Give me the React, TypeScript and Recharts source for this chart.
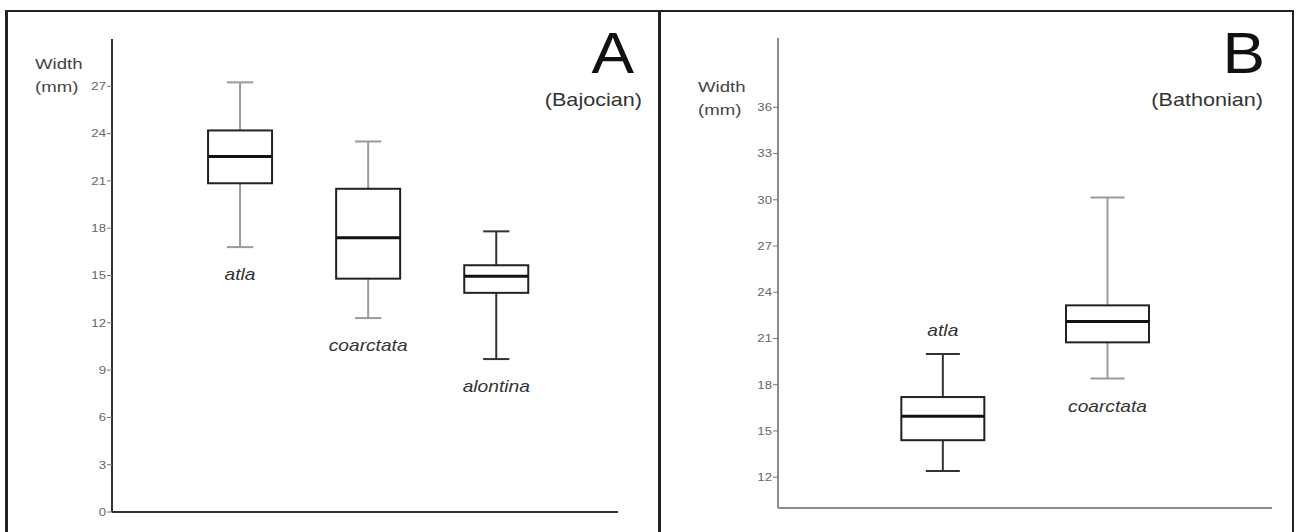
import React from 'react';
import { ComposedChart, Bar, XAxis, YAxis } from 'recharts';

const FONT = '"Liberation Sans", Arial, Helvetica, sans-serif';
// the scanned figure is a bit wider than tall, so text is stretched sideways
const STRETCH = 1.2;

// Panel A - Bajocian
const speciesA = ['atla', 'coarctata', 'alontina'];
const slotA = [1, 2, 3];
const lowA = [16.8, 12.3, 9.7];
const q1A = [20.85, 14.8, 13.9];
const medianA = [22.55, 17.4, 14.95];
const q3A = [24.2, 20.5, 15.65];
const highA = [27.25, 23.5, 17.8];
const sideA = ['below', 'below', 'below'];
const ticksA = [0, 3, 6, 9, 12, 15, 18, 21, 24, 27];

// Panel B - Bathonian
const speciesB = ['atla', 'coarctata'];
const slotB = [1, 2];
const lowB = [12.4, 18.4];
const q1B = [14.4, 20.75];
const medianB = [15.95, 22.1];
const q3B = [17.2, 23.15];
const highB = [20.0, 30.15];
const sideB = ['above', 'below'];
const ticksB = [12, 15, 18, 21, 24, 27, 30, 33, 36];

const whiskerColorsA = ['#9a9a9a', '#9a9a9a', '#333'];
const whiskerColorsB = ['#333', '#9a9a9a'];

function buildRows(
    species: string[], slot: number[], low: number[], q1: number[],
    median: number[], q3: number[], high: number[], side: string[]
) {
    return species.map((name, i) => ({
        name,
        slot: slot[i],
        range: [low[i], high[i]],
        low: low[i],
        q1: q1[i],
        median: median[i],
        q3: q3[i],
        high: high[i],
        side: side[i],
    }));
}

const rowsA = buildRows(speciesA, slotA, lowA, q1A, medianA, q3A, highA, sideA);
const rowsB = buildRows(speciesB, slotB, lowB, q1B, medianB, q3B, highB, sideB);

function BoxWhisker(props: any) {
    const { x, y, width, height, payload, index, whiskerColors } = props;
    if (x == null || payload == null) return null;
    // the bar spans low..high, so its pixels give the y scale
    const top = Math.min(y, y + height);
    const k = Math.abs(height) / (payload.high - payload.low);
    const yOf = (v: number) => top + (payload.high - v) * k;
    const cx = x + width / 2;
    const cap = width * 0.41;
    const wc = whiskerColors[index] ?? '#9a9a9a';
    const yHigh = yOf(payload.high);
    const yQ3 = yOf(payload.q3);
    const yMed = yOf(payload.median);
    const yQ1 = yOf(payload.q1);
    const yLow = yOf(payload.low);
    const labelY = payload.side === 'above' ? yHigh - 18 : yLow + 33;
    return (
        <g>
            <line x1={cx} x2={cx} y1={yHigh} y2={yQ3} stroke={wc} strokeWidth={2} />
            <line x1={cx} x2={cx} y1={yQ1} y2={yLow} stroke={wc} strokeWidth={2} />
            <line x1={cx - cap / 2} x2={cx + cap / 2} y1={yHigh} y2={yHigh} stroke={wc} strokeWidth={2} />
            <line x1={cx - cap / 2} x2={cx + cap / 2} y1={yLow} y2={yLow} stroke={wc} strokeWidth={2} />
            <rect x={x} y={yQ3} width={width} height={yQ1 - yQ3} fill="#fff" stroke="#222" strokeWidth={2} />
            <line x1={x} x2={x + width} y1={yMed} y2={yMed} stroke="#111" strokeWidth={3} />
            <text
                transform={`translate(${cx},${labelY}) scale(${STRETCH},1)`}
                textAnchor="middle"
                fontStyle="italic"
                fontSize={16}
                fill="#333"
                fontFamily={FONT}
            >
                {payload.name}
            </text>
        </g>
    );
}

function StretchTick(props: any) {
    const { x, y, payload } = props;
    return (
        <text
            transform={`translate(${x},${y}) scale(${STRETCH},1)`}
            textAnchor="end"
            dy="0.35em"
            fontSize={11}
            fill="#666"
            fontFamily={FONT}
        >
            {payload.value}
        </text>
    );
}

interface PanelProps {
    rows: any[];
    whiskerColors: string[];
    ticks: number[];
    yDomain: [number, number];
    xDomain: [number, number];
    width: number;
    margin: { top: number; right: number; bottom: number; left: number };
    boxWidth: number;
    axisColor: string;
}

function Panel({ rows, whiskerColors, ticks, yDomain, xDomain, width, margin, boxWidth, axisColor }: PanelProps) {
    return (
        <ComposedChart width={width} height={532} data={rows} margin={margin}>
            <XAxis
                dataKey="slot"
                type="number"
                domain={xDomain}
                height={2}
                tick={false}
                tickLine={false}
                axisLine={{ stroke: axisColor, strokeWidth: 2 }}
            />
            <YAxis
                type="number"
                domain={yDomain}
                ticks={ticks}
                interval={0}
                width={40}
                tickSize={5}
                tickMargin={1}
                tick={<StretchTick />}
                tickLine={{ stroke: '#777' }}
                axisLine={{ stroke: axisColor, strokeWidth: 2 }}
            />
            <Bar
                dataKey="range"
                barSize={boxWidth}
                isAnimationActive={false}
                shape={(p: any) => <BoxWhisker {...p} whiskerColors={whiskerColors} />}
            />
        </ComposedChart>
    );
}

function Caption({ x, y, size, anchor, children, scale = STRETCH, color = '#333' }: any) {
    return (
        <text
            transform={`translate(${x},${y}) scale(${scale},1)`}
            textAnchor={anchor}
            fontSize={size}
            fill={color}
            fontFamily={FONT}
        >
            {children}
        </text>
    );
}

export default function App() {
    return (
        <div style={{ position: 'absolute', left: 0, top: 0, width: 1297, height: 532, background: '#fff', overflow: 'hidden' }}>
            <div style={{
                position: 'absolute', left: 5, top: 10, width: 1289, height: 540, boxSizing: 'border-box',
                borderTop: '2px solid #222', borderLeft: '3px solid #222', borderRight: '2px solid #222'
            }} />
            <div style={{ position: 'absolute', left: 658, top: 10, width: 3, height: 530, background: '#222' }} />

            <div style={{ position: 'absolute', left: 0, top: 0 }}>
                <Panel
                    rows={rowsA}
                    whiskerColors={whiskerColorsA}
                    ticks={ticksA}
                    yDomain={[0, 30]}
                    xDomain={[0, 3.95]}
                    width={660}
                    margin={{ top: 39, right: 42, bottom: 18, left: 72 }}
                    boxWidth={64}
                    axisColor="#333"
                />
            </div>
            <div style={{ position: 'absolute', left: 660, top: 0 }}>
                <Panel
                    rows={rowsB}
                    whiskerColors={whiskerColorsB}
                    ticks={ticksB}
                    yDomain={[10, 40.5]}
                    xDomain={[0, 3]}
                    width={637}
                    margin={{ top: 38, right: 25, bottom: 22, left: 78 }}
                    boxWidth={83}
                    axisColor="#8c8c8c"
                />
            </div>

            <svg width={1297} height={532} style={{ position: 'absolute', left: 0, top: 0, pointerEvents: 'none' }}>
                <Caption x={35} y={69} size={15.5} anchor="start" color="#444">Width</Caption>
                <Caption x={35} y={92} size={15.5} anchor="start" color="#444">(mm)</Caption>
                <Caption x={634} y={73} size={58} anchor="end" scale={1.1} color="#111">A</Caption>
                <Caption x={642} y={106} size={18} anchor="end">(Bajocian)</Caption>

                <Caption x={698} y={92} size={15.5} anchor="start" color="#444">Width</Caption>
                <Caption x={698} y={115} size={15.5} anchor="start" color="#444">(mm)</Caption>
                <Caption x={1265} y={73} size={58} anchor="end" scale={1.1} color="#111">B</Caption>
                <Caption x={1263} y={106} size={18} anchor="end">(Bathonian)</Caption>
            </svg>
        </div>
    );
}
